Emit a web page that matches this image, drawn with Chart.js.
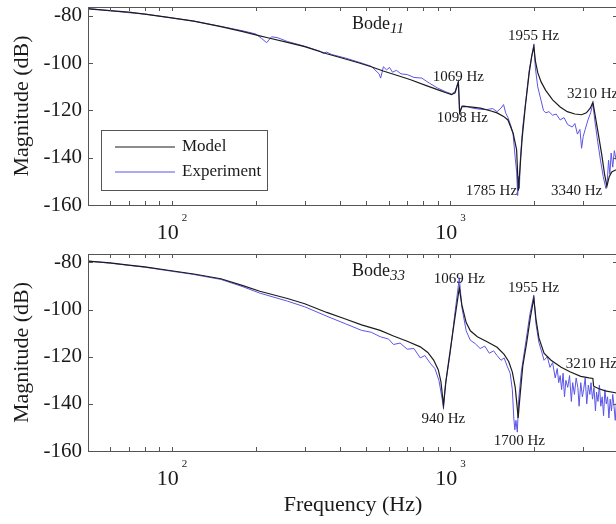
<!DOCTYPE html>
<html>
<head>
<meta charset="utf-8">
<script src="https://cdn.jsdelivr.net/npm/chart.js@4.4.1/dist/chart.umd.min.js"></script>
<style>
  html, body { margin: 0; padding: 0; background: #fff; overflow: hidden; width: 616px; height: 524px; }
  canvas { position: absolute; left: 0; }
  #chart11 { top: 0; }
  #chart33 { top: 247px; }
</style>
</head>
<body>
<canvas id="chart11" width="618" height="247"></canvas>
<canvas id="chart33" width="618" height="277"></canvas>
<script>
// Bode11 - model
const model11Freq = [50, 60, 70, 80, 97, 120, 150, 180, 207, 221, 260, 300, 360, 420, 474, 520, 574, 650, 720, 820, 920, 977, 1010, 1040, 1069, 1080, 1100, 1117, 1200, 1282, 1400, 1472, 1553, 1610, 1680, 1730, 1755, 1775, 1810, 1860, 1920, 1960, 1995, 2020, 2060, 2120, 2200, 2330, 2480, 2630, 2800, 2960, 3080, 3180, 3250, 3300, 3400, 3500, 3580, 3650, 3720, 3800, 3900, 4000];
const model11Mag = [-77.0, -77.7, -78.4, -79.2, -80.6, -82.2, -84.5, -86.6, -88.4, -89.2, -91.2, -93.0, -96.0, -98.2, -100.0, -101.5, -103.3, -105.3, -107.0, -109.5, -111.6, -112.7, -113.3, -112.5, -108.0, -121.0, -118.5, -118.3, -118.6, -119.0, -120.2, -121.0, -122.5, -124.0, -129.5, -136.7, -154.0, -146.0, -132.0, -118.0, -104.0, -97.0, -93.0, -99.0, -104.0, -108.0, -111.5, -115.5, -118.5, -120.5, -121.5, -121.8, -121.0, -119.0, -116.5, -121.0, -130.0, -139.0, -147.0, -152.0, -148.0, -146.0, -145.3, -145.0];

// Bode11 - experiment
const exp11Freq = [50, 60, 70, 80, 97, 120, 150, 180, 200, 210, 219, 228, 240, 260, 300, 340, 350, 360, 375, 420, 474, 520, 555, 562, 575, 590, 605, 620, 640, 665, 700, 740, 790, 840, 900, 960, 1010, 1040, 1069, 1080, 1100, 1150, 1200, 1282, 1350, 1420, 1472, 1520, 1553, 1580, 1610, 1650, 1680, 1710, 1730, 1745, 1758, 1770, 1785, 1820, 1870, 1920, 1995, 2020, 2060, 2120, 2160, 2200, 2260, 2330, 2400, 2480, 2560, 2640, 2740, 2800, 2860, 2920, 2960, 3000, 3050, 3120, 3190, 3250, 3300, 3380, 3460, 3540, 3620, 3660, 3700, 3740, 3780, 3830, 3880, 3940, 4000];
const exp11Mag = [-76.8, -77.8, -78.6, -79.2, -80.6, -82.2, -84.4, -86.3, -87.6, -89.5, -91.3, -88.8, -89.2, -90.8, -92.8, -94.9, -95.9, -95.3, -96.3, -97.8, -99.7, -101.3, -104.5, -106.3, -101.5, -102.8, -101.8, -103.8, -103.0, -104.5, -104.8, -106.0, -106.3, -108.4, -110.5, -112.0, -113.0, -112.0, -107.5, -121.5, -118.0, -118.3, -119.0, -119.5, -119.6, -119.2, -120.5, -119.0, -117.5, -121.0, -123.0, -126.5, -130.0, -140.0, -146.0, -156.0, -148.0, -153.0, -140.0, -127.0, -115.0, -103.0, -92.0, -102.0, -110.0, -116.0, -120.0, -121.0, -120.5, -122.0, -121.5, -124.0, -123.0, -126.0, -127.0, -125.5, -130.0, -128.0, -136.0, -131.0, -128.0, -124.0, -121.0, -117.0, -124.0, -133.0, -141.0, -148.0, -153.0, -150.0, -141.0, -147.0, -138.0, -144.0, -137.0, -141.0, -139.0];

// Bode33 - model
const model33Freq = [50, 60, 70, 80, 97, 120, 150, 180, 207, 260, 300, 360, 420, 480, 560, 625, 700, 780, 830, 871, 905, 925, 945, 965, 1000, 1040, 1077, 1100, 1140, 1180, 1250, 1350, 1472, 1560, 1620, 1670, 1710, 1740, 1752, 1775, 1820, 1880, 1940, 1994, 2030, 2080, 2170, 2300, 2500, 2700, 2940, 3150, 3250, 3270, 3400, 3600, 4000];
const model33Mag = [-79.4, -80.2, -81.1, -81.9, -83.3, -84.9, -86.9, -89.8, -92.2, -95.3, -97.5, -101.2, -104.0, -106.5, -108.8, -111.2, -113.4, -115.8, -118.2, -121.4, -125.5, -130.5, -140.5, -130.0, -117.0, -103.0, -90.8, -98.0, -105.5, -109.0, -111.5, -113.5, -116.0, -119.0, -122.0, -126.5, -133.0, -142.0, -146.0, -138.0, -124.0, -114.0, -103.0, -95.2, -104.0, -112.0, -118.5, -121.5, -124.5, -126.5, -128.3, -129.0, -129.2, -132.5, -133.5, -134.5, -135.5];

// Bode33 - experiment
const exp33Freq = [50, 60, 70, 80, 97, 120, 150, 180, 207, 260, 300, 360, 420, 480, 520, 560, 600, 625, 660, 700, 740, 780, 810, 850, 880, 910, 935, 945, 960, 1000, 1040, 1077, 1100, 1140, 1180, 1230, 1280, 1330, 1380, 1430, 1472, 1520, 1560, 1600, 1640, 1670, 1690, 1705, 1720, 1740, 1760, 1800, 1860, 1930, 1994, 2030, 2080, 2130, 2170, 2230, 2280, 2330, 2380, 2420, 2450, 2480, 2510, 2540, 2570, 2600, 2640, 2680, 2720, 2750, 2790, 2830, 2870, 2900, 2940, 2980, 3010, 3050, 3090, 3130, 3170, 3200, 3240, 3280, 3320, 3350, 3390, 3430, 3470, 3510, 3550, 3590, 3630, 3670, 3710, 3750, 3790, 3830, 3870, 3910, 3950, 3980, 4000];
const exp33Mag = [-79.4, -80.3, -81.2, -82.0, -83.5, -85.1, -87.2, -90.3, -93.0, -96.4, -98.8, -102.8, -106.0, -108.8, -109.6, -111.5, -112.5, -114.8, -114.2, -116.8, -116.5, -120.5, -119.5, -123.0, -125.0, -130.0, -138.0, -142.0, -132.0, -118.0, -101.0, -86.5, -99.0, -109.0, -113.0, -114.5, -116.5, -115.5, -118.5, -117.5, -119.5, -121.5, -120.5, -124.0, -127.0, -134.0, -146.0, -151.0, -147.0, -152.0, -138.0, -126.0, -115.0, -102.0, -94.0, -106.0, -114.0, -118.0, -121.5, -120.0, -124.5, -122.5, -129.0, -125.0, -131.0, -128.0, -134.0, -127.0, -137.0, -130.0, -133.0, -128.0, -139.0, -131.0, -136.0, -129.0, -133.0, -141.0, -131.0, -137.0, -134.0, -129.0, -140.0, -132.0, -136.0, -131.0, -138.0, -133.0, -143.0, -135.0, -139.0, -132.0, -141.0, -137.0, -145.0, -134.0, -140.0, -137.0, -146.0, -138.0, -143.0, -136.0, -141.0, -147.0, -139.0, -144.0, -148.0];

// axes
const xTickValues = [50, 60, 70, 80, 90, 100, 200, 300, 400, 500, 600, 700, 800, 900, 1000, 2000, 3000, 4000];
const xMajorTicks = [100, 1000];
const xTickLabels = [['10', '2'], ['10', '3']];
const yTickValues = [-160, -140, -120, -100, -80];

// peak / notch labels: [text, frequency, dB]
const notes11 = [['1069 Hz', 1069, -105.8], ['1098 Hz', 1104, -123.1], ['1955 Hz', 1990, -88.5], ['3210 Hz', 3243, -113], ['1785 Hz', 1405, -154], ['3340 Hz', 2840, -154]];
const notes33 = [['1069 Hz', 1077, -87], ['1955 Hz', 1990, -90.8], ['3210 Hz', 3210, -123.1], ['940 Hz', 944, -146.5], ['1700 Hz', 1770, -155.8]];

const SERIF = '"Liberation Serif", "Times New Roman", serif';
const TEXT = '#1a1a1a';

function toPoints(xs, ys) {
    return xs.map((x, i) => ({ x: x, y: ys[i] }));
}

// box, inward ticks, decade labels, title, notes and legend
const bodeDecor = {
    id: 'bodeDecor',
    afterDraw(chart, args, opts) {
        const ctx = chart.ctx;
        const { left, right, top, bottom } = chart.chartArea;
        const xs = chart.scales.x, ys = chart.scales.y;
        ctx.save();
        ctx.strokeStyle = '#555';
        ctx.lineWidth = 1;
        ctx.strokeRect(left + 0.5, top + 0.5, right - left, bottom - top);
        ctx.beginPath();
        xs.ticks.forEach(t => {
            const px = Math.round(xs.getPixelForValue(t.value)) + 0.5;
            ctx.moveTo(px, bottom); ctx.lineTo(px, bottom - 4);
            ctx.moveTo(px, top); ctx.lineTo(px, top + 4);
        });
        ys.ticks.forEach(t => {
            const py = Math.round(ys.getPixelForValue(t.value)) + 0.5;
            ctx.moveTo(left, py); ctx.lineTo(left + 5, py);
            ctx.moveTo(right, py); ctx.lineTo(right - 5, py);
        });
        ctx.stroke();

        // decade labels 10^n
        ctx.fillStyle = TEXT;
        ctx.textAlign = 'left';
        ctx.textBaseline = 'alphabetic';
        xMajorTicks.forEach((v, i) => {
            const px = xs.getPixelForValue(v);
            ctx.font = '22px ' + SERIF;
            ctx.fillText(xTickLabels[i][0], px - 15, bottom + 34);
            ctx.font = '11px ' + SERIF;
            ctx.fillText(xTickLabels[i][1], px + 10, bottom + 16);
        });

        // Bode title with italic subscript
        ctx.font = '18px ' + SERIF;
        const tx = left + 264, ty = top + 22;
        ctx.fillText('Bode', tx, ty);
        const w = ctx.measureText('Bode').width;
        ctx.font = 'italic 15px ' + SERIF;
        ctx.fillText(opts.sub, tx + w, ty + 4);

        // frequency labels
        ctx.font = '15px ' + SERIF;
        ctx.textAlign = 'center';
        ctx.textBaseline = 'middle';
        opts.notes.forEach(n => {
            ctx.fillText(n[0], xs.getPixelForValue(n[1]), ys.getPixelForValue(n[2]));
        });

        // legend
        if (opts.legend) {
            const lx = left + 13, ly = top + 123, lw = 166, lh = 60;
            ctx.fillStyle = '#fff';
            ctx.fillRect(lx, ly, lw, lh);
            ctx.strokeStyle = '#555';
            ctx.strokeRect(lx + 0.5, ly + 0.5, lw, lh);
            ctx.font = '17px ' + SERIF;
            ctx.textAlign = 'left';
            chart.data.datasets.forEach((ds, i) => {
                const y = ly + 17 + i * 25;
                ctx.strokeStyle = ds.borderColor;
                ctx.lineWidth = ds.borderWidth;
                ctx.beginPath();
                ctx.moveTo(lx + 14, y); ctx.lineTo(lx + 74, y);
                ctx.stroke();
                ctx.fillStyle = TEXT;
                ctx.fillText(ds.label, lx + 81, y);
            });
        }
        ctx.restore();
    }
};

function makeBodeChart(id, model, exp, opts) {
    const ctx = document.getElementById(id).getContext('2d');
    return new Chart(ctx, {
        type: 'line',
        data: {
            datasets: [{
                label: 'Model',
                data: model,
                borderColor: '#1c1c1c',
                borderWidth: 1.2,
                pointRadius: 0,
                tension: 0
            }, {
                label: 'Experiment',
                data: exp,
                borderColor: '#5b55e6',
                borderWidth: 1,
                pointRadius: 0,
                tension: 0
            }]
        },
        options: {
            responsive: false,
            animation: false,
            layout: { padding: { top: 7, left: 0, right: 0, bottom: 0 } },
            plugins: {
                legend: { display: false },
                tooltip: { enabled: false },
                bodeDecor: { sub: opts.sub, notes: opts.notes, legend: opts.legend }
            },
            scales: {
                x: {
                    type: 'logarithmic',
                    min: 50,
                    max: 4000,
                    grid: { display: false, drawTicks: false },
                    border: { display: false },
                    afterBuildTicks: s => { s.ticks = xTickValues.map(v => ({ value: v })); },
                    afterFit: s => { s.height = opts.xHeight; s.paddingLeft = 0; s.paddingRight = 0; },
                    ticks: { display: false },
                    title: {
                        display: opts.xTitle,
                        text: 'Frequency (Hz)',
                        color: TEXT,
                        font: { family: SERIF, size: 22 },
                        padding: { top: 0, bottom: 6 }
                    }
                },
                y: {
                    min: -160,
                    max: opts.yMax,
                    grid: { display: false, drawTicks: false },
                    border: { display: false },
                    afterBuildTicks: s => { s.ticks = yTickValues.map(v => ({ value: v })); },
                    afterFit: s => { s.width = 88; s.paddingTop = 0; s.paddingBottom = 0; },
                    ticks: {
                        padding: 6,
                        color: TEXT,
                        font: { family: SERIF, size: 21 }
                    },
                    title: {
                        display: true,
                        text: 'Magnitude (dB)',
                        color: TEXT,
                        font: { family: SERIF, size: 22 },
                        padding: { top: 9, bottom: 0 }
                    }
                }
            }
        },
        plugins: [bodeDecor]
    });
}

makeBodeChart('chart11', toPoints(model11Freq, model11Mag), toPoints(exp11Freq, exp11Mag),
    { sub: '11', notes: notes11, legend: true, xTitle: false, xHeight: 42, yMax: -76.2 });
makeBodeChart('chart33', toPoints(model33Freq, model33Mag), toPoints(exp33Freq, exp33Mag),
    { sub: '33', notes: notes33, legend: false, xTitle: true, xHeight: 73, yMax: -76.4 });
</script>
</body>
</html>
